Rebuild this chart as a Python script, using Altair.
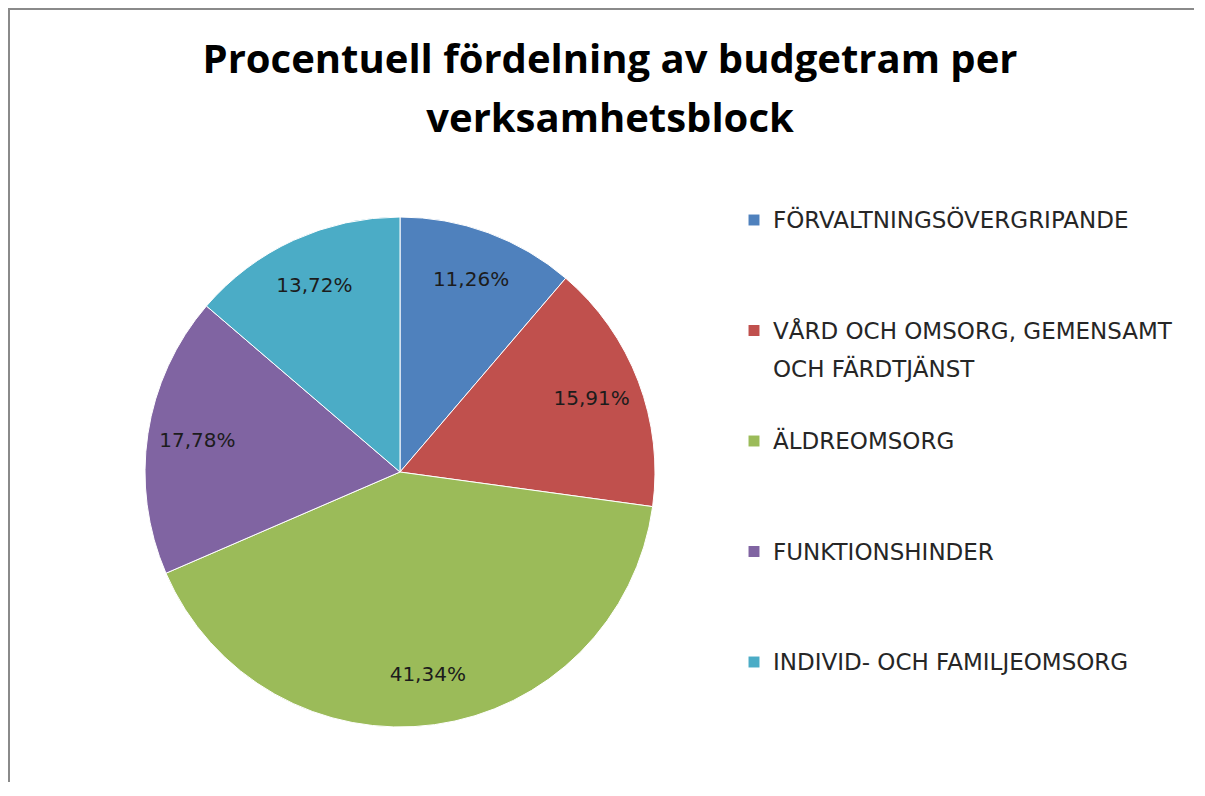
import altair as alt
import pandas as pd

# ---- data ----
categories = [
    "FÖRVALTNINGSÖVERGRIPANDE",
    "VÅRD OCH OMSORG, GEMENSAMT OCH FÄRDTJÄNST",
    "ÄLDREOMSORG",
    "FUNKTIONSHINDER",
    "INDIVID- OCH FAMILJEOMSORG",
]
shares = [11.26, 15.91, 41.34, 17.78, 13.72]
legend_labels = [
    "FÖRVALTNINGSÖVERGRIPANDE",
    "VÅRD OCH OMSORG, GEMENSAMT|OCH FÄRDTJÄNST",
    "ÄLDREOMSORG",
    "FUNKTIONSHINDER",
    "INDIVID- OCH FAMILJEOMSORG",
]
colors = ["#4F81BD", "#C0504D", "#9BBB59", "#8064A2", "#4BACC6"]
title_lines = ["Procentuell fördelning av budgetram per", "verksamhetsblock"]

df = pd.DataFrame({
    "category": categories,
    "share": shares,
    "idx": list(range(len(categories))),
    "pct": [f"{v:.2f}".replace(".", ",") + "%" for v in shares],
    "legend": legend_labels,
})

W, H = 1186, 774
CX, CY = 392, 464
R = 255

color_scale = alt.Scale(domain=categories, range=colors)

base = alt.Chart(df)

pie = base.mark_arc(outerRadius=R, stroke="white", strokeWidth=1).encode(
    theta=alt.Theta("share:Q", stack=True),
    order=alt.Order("idx:Q"),
    color=alt.Color("category:N", scale=color_scale, legend=None),
    x=alt.value(CX),
    y=alt.value(CY),
)

labels = base.mark_text(radius=205, font="DejaVu Sans", fontSize=20, color="#1c1c1c").encode(
    theta=alt.Theta("share:Q", stack=True),
    order=alt.Order("idx:Q"),
    text="pct:N",
    x=alt.value(CX),
    y=alt.value(CY),
)

ypos = alt.Y("category:N", sort=categories, axis=None,
             scale=alt.Scale(type="point", range=[212, 654], padding=0))

leg_sq = base.mark_square(size=120, opacity=1).encode(
    x=alt.value(746),
    y=ypos,
    color=alt.Color("category:N", scale=color_scale, legend=None),
)

leg_txt = base.transform_calculate(
    lines="split(datum.legend, '|')"
).mark_text(
    align="left", baseline="alphabetic", dy=8, font="DejaVu Sans", fontSize=23,
    color="#262626", lineHeight=38,
).encode(
    x=alt.value(765),
    y=ypos,
    text="lines:N",
)

title = alt.Chart(pd.DataFrame({"t": [0]})).mark_text(
    align="center", baseline="alphabetic", font="Open Sans", fontWeight="bold",
    fontSize=40, color="#000000", lineHeight=59,
).encode(
    x=alt.value(602),
    y=alt.value(65),
    text=alt.value(title_lines),
)

# chart frame: left and top edges (the right and bottom edges fall outside the reference crop)
frame = alt.Chart(pd.DataFrame({"t": [0]})).mark_rect(
    fill="white", fillOpacity=0, stroke="#8a8a8a", strokeWidth=2
).encode(
    x=alt.value(1), x2=alt.value(W + 20), y=alt.value(1), y2=alt.value(H + 20)
)

chart = alt.layer(frame, pie, labels, leg_sq, leg_txt, title).properties(
    width=W, height=H,
    autosize=alt.AutoSizeParams(type="none"),
    padding=0,
    background="white",
).configure_view(strokeWidth=0, stroke=None)

chart.save("out.html", embed_options={"renderer": "svg", "actions": False})
